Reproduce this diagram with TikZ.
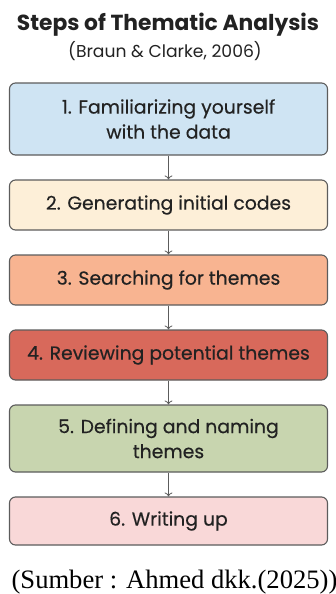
\documentclass[tikz,border=0pt]{standalone}
\usepackage{fontspec}
\setmainfont{Liberation Serif}
\setsansfont{Poppins}
\newfontfamily\boxfont[FakeBold=0.4]{Poppins}
\usetikzlibrary{calc}
\usetikzlibrary{shapes}
\usetikzlibrary{arrows.meta}
\definecolor{famblue}{HTML}{CFE4F3}
\definecolor{gencream}{HTML}{FDEFD8}
\definecolor{searchsalmon}{HTML}{F8B491}
\definecolor{reviewred}{HTML}{D8695B}
\definecolor{definegreen}{HTML}{C8D5AF}
\definecolor{writepink}{HTML}{F9D8D8}
\definecolor{edgegray}{HTML}{5C5C5C}
\definecolor{inkdark}{HTML}{222222}
\tikzset{stepbox/.style={draw=edgegray, line width=1.1pt, rounded corners=6pt,
    minimum width=318pt, align=center, font=\boxfont\fontsize{18.8}{25}\selectfont,
    text=inkdark},
  steparrow/.style={draw=edgegray, line width=0.8pt, -{To[length=4pt,width=8pt]}}}

\begin{document}
\begin{tikzpicture}[x=1pt,y=1pt]
\useasboundingbox (0,0) rectangle (336,-594);
\node[anchor=base, text=inkdark] (title) at (168,-31){\sffamily\bfseries\fontsize{21.8}{24}\selectfont Steps of Thematic Analysis};
\node[anchor=base, text=inkdark] (subtitle) at (165,-57){\sffamily\fontsize{17.2}{20}\selectfont (Braun \& Clarke, 2006)};
\node[stepbox, fill=famblue, minimum height=72pt] (step1) at (168.5,-119){1. Familiarizing yourself\\with the data};
\node[stepbox, fill=gencream, minimum height=50pt] (step2) at (168.5,-205){2. Generating initial codes};
\node[stepbox, fill=searchsalmon, minimum height=50pt] (step3) at (168.5,-280){3. Searching for themes};
\node[stepbox, fill=reviewred, minimum height=50pt] (step4) at (168.5,-355){4. Reviewing potential themes};
\node[stepbox, fill=definegreen, minimum height=67pt] (step5) at (168.5,-438.5){5. Defining and naming\\themes};
\node[stepbox, fill=writepink, minimum height=48pt] (step6) at (168.5,-521){6. Writing up};
\foreach \a/\b in {step1/step2,step2/step3,step3/step4,step4/step5,step5/step6}{
	\draw[steparrow] (\a) -- (\b);
	}
\node[anchor=base] (source) at (174.5,-588){\fontsize{26.6}{28}\selectfont (Sumber : Ahmed dkk.(2025))};
\end{tikzpicture}
\end{document}
